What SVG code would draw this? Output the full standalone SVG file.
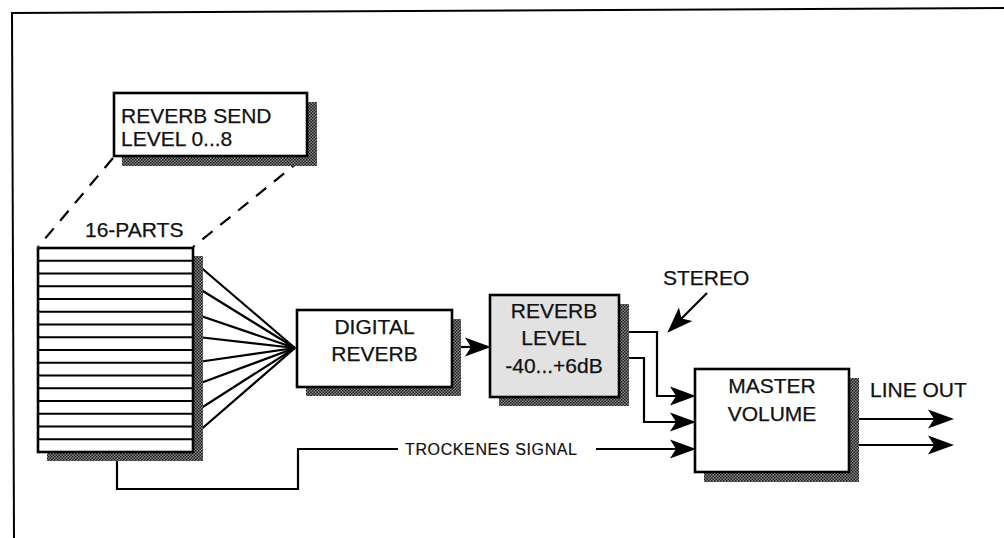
<svg xmlns="http://www.w3.org/2000/svg" width="1004" height="538" viewBox="0 0 1004 538">
<defs>
<pattern id="dots" width="3" height="3" patternUnits="userSpaceOnUse">
<rect width="3" height="3" fill="#8a8a8a"/>
<rect width="1.5" height="1.5" fill="#1a1a1a"/>
<rect x="1.5" y="1.5" width="1.5" height="1.5" fill="#1a1a1a"/>
</pattern>
<path id="ah" d="M1,0 L-25,-9.5 L-19,0 L-25,9.5 Z" fill="#000"/>
<style>
.box{fill:#fff;stroke:#000;stroke-width:2.6}
.shadow{fill:url(#dots)}
.t{font-family:"Liberation Sans",Arial,sans-serif;font-size:21px;fill:#111;stroke:#111;stroke-width:0.25}
.ts{font-family:"Liberation Sans",Arial,sans-serif;font-size:16px;fill:#111;stroke:#111;stroke-width:0.2}
.ln{fill:none;stroke:#000;stroke-width:2.2}
.dash{fill:none;stroke:#000;stroke-width:2.2;stroke-dasharray:13 10}
</style>
</defs>
<rect width="1004" height="538" fill="#fff"/>
<g id="frame">
<line x1="11" y1="13" x2="1004" y2="8" stroke="#000" stroke-width="2"/>
<line x1="12" y1="13" x2="14" y2="538" stroke="#000" stroke-width="2"/>
</g>
<g id="connectors">
<line class="dash" x1="113" y1="158" x2="38" y2="247"/>
<line class="dash" x1="302" y1="159" x2="193" y2="247"/>
<line class="ln" x1="198" y1="265" x2="295" y2="348"/>
<line class="ln" x1="198" y1="288" x2="295" y2="348"/>
<line class="ln" x1="198" y1="315" x2="295" y2="348"/>
<line class="ln" x1="198" y1="337" x2="295" y2="348"/>
<line class="ln" x1="198" y1="362" x2="295" y2="348"/>
<line class="ln" x1="198" y1="384" x2="295" y2="348"/>
<line class="ln" x1="198" y1="410" x2="295" y2="348"/>
<line class="ln" x1="198" y1="432" x2="295" y2="348"/>
<line class="ln" x1="461" y1="347" x2="474" y2="347"/>
<use href="#ah" x="490" y="347"/>
<polyline class="ln" points="629,332 657,332 657,396 678,396"/>
<use href="#ah" x="695" y="396"/>
<polyline class="ln" points="629,358 644,358 644,422 678,422"/>
<use href="#ah" x="695" y="422"/>
<polyline class="ln" points="117,461 117,489 298,489 298,449 398,449"/>
<line class="ln" x1="596" y1="449" x2="678" y2="449"/>
<use href="#ah" x="695" y="449"/>
<line class="ln" x1="859" y1="419" x2="936" y2="419"/>
<use href="#ah" x="953" y="419"/>
<line class="ln" x1="859" y1="445" x2="936" y2="445"/>
<use href="#ah" x="953" y="445"/>
<line class="ln" x1="707" y1="293" x2="680" y2="320"/>
<use href="#ah" transform="translate(668,332) rotate(135)"/>
</g>
<g id="send-level">
<rect class="shadow" x="122" y="102" width="195" height="64"/>
<rect class="box" x="114" y="93" width="193" height="63"/>
<text class="t" x="121" y="123">REVERB SEND</text>
<text class="t" x="121" y="146">LEVEL 0...8</text>
</g>
<g id="parts">
<text class="t" x="85" y="237">16-PARTS</text>
<rect class="shadow" x="47" y="256" width="156" height="205"/>
<rect class="box" x="38" y="248" width="155" height="204"/>
<path class="ln" d="M38,260.75H193M38,273.5H193M38,286.25H193M38,299H193M38,311.75H193M38,324.5H193M38,337.25H193M38,350H193M38,362.75H193M38,375.5H193M38,388.25H193M38,401H193M38,413.75H193M38,426.5H193M38,439.25H193"/>
</g>
<g id="digital-reverb">
<rect class="shadow" x="306" y="319" width="155" height="77"/>
<rect class="box" x="297" y="310" width="155" height="77"/>
<text class="t" x="374.5" y="334" text-anchor="middle">DIGITAL</text>
<text class="t" x="374.5" y="361" text-anchor="middle">REVERB</text>
</g>
<g id="reverb-level">
<rect class="shadow" x="499" y="304" width="130" height="102"/>
<rect class="box" x="490" y="295" width="129" height="102" style="fill:#e2e2e2"/>
<text class="t" x="554" y="318" text-anchor="middle">REVERB</text>
<text class="t" x="554" y="345" text-anchor="middle">LEVEL</text>
<text class="t" x="554" y="373" text-anchor="middle">-40...+6dB</text>
</g>
<g id="stereo">
<text class="t" x="663" y="285">STEREO</text>
</g>
<g id="master-volume">
<rect class="shadow" x="704" y="378" width="155" height="104"/>
<rect class="box" x="695" y="369" width="154" height="103"/>
<text class="t" x="772" y="393" text-anchor="middle">MASTER</text>
<text class="t" x="772" y="421" text-anchor="middle">VOLUME</text>
</g>
<g id="line-out">
<text class="t" x="870" y="397">LINE OUT</text>
</g>
<g id="dry-signal">
<text class="ts" x="405" y="455" textLength="172">TROCKENES SIGNAL</text>
</g>
</svg>
